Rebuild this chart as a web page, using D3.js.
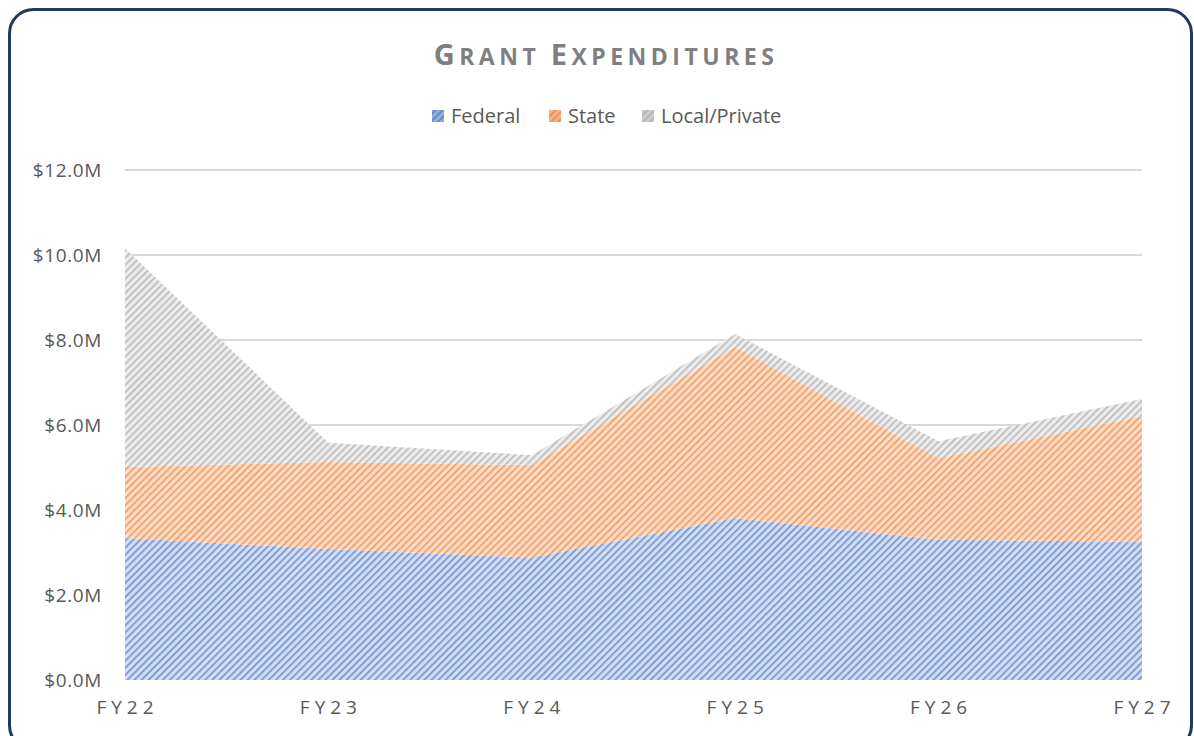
<!DOCTYPE html>
<html>
<head>
<meta charset="utf-8">
<script src="https://cdn.jsdelivr.net/npm/d3@7"></script>
<style>
  body { margin: 0; background: #fff; }
  svg { display: block; }
  text { font-family: "Open Sans", "Noto Sans", sans-serif; }
</style>
</head>
<body>
<svg id="chart" width="1194" height="736"></svg>
<script>
const categories = ["FY22", "FY23", "FY24", "FY25", "FY26", "FY27"];
const federal = [3.34, 3.08, 2.88, 3.81, 3.3, 3.25];
const state = [1.67, 2.05, 2.18, 4.03, 1.92, 2.96];
const localPrivate = [5.15, 0.45, 0.23, 0.3, 0.4, 0.4];
const seriesNames = ["Federal", "State", "Local/Private"];
const yTicks = [0, 2, 4, 6, 8, 10, 12];

const colors = ["#4472C4", "#ED7D31", "#A5A5A5"];
const bgs = ["#d3ddf2", "#fcdcc6", "#ececec"];

const svg = d3.select("#chart");
const W = 1194, H = 736;
const margin = { left: 125, right: 52, top: 170, bottom: 56 };

// border
svg.append("rect")
  .attr("x", 9.5).attr("y", 9.5)
  .attr("width", 1182).attr("height", 740)
  .attr("rx", 24).attr("ry", 24)
  .attr("fill", "#fff")
  .attr("stroke", "#1f3864").attr("stroke-width", 3);

// patterns
const defs = svg.append("defs");
const keys = ["federal", "state", "local"];
keys.forEach((k, i) => {
  const p = defs.append("pattern")
    .attr("id", "pat-" + k)
    .attr("patternUnits", "userSpaceOnUse")
    .attr("width", 5).attr("height", 5)
    .attr("patternTransform", "rotate(45)");
  p.append("rect").attr("width", 5).attr("height", 5).attr("fill", bgs[i]);
  p.append("rect").attr("x", 0).attr("y", 0).attr("width", 1.6).attr("height", 5)
    .attr("fill", colors[i]).attr("opacity", 0.7);
});

const x = d3.scalePoint().domain(categories).range([margin.left, W - margin.right]);
const y = d3.scaleLinear().domain([0, 12]).range([H - margin.bottom, margin.top]);

// gridlines
svg.append("g").selectAll("line").data(yTicks.filter(d => d > 0)).join("line")
  .attr("x1", margin.left).attr("x2", W - margin.right)
  .attr("y1", d => y(d)).attr("y2", d => y(d))
  .attr("stroke", "#d9d9d9").attr("stroke-width", 2);

// y axis labels
const yAxis = d3.axisLeft(y).tickValues(yTicks).tickFormat(d => "$" + d.toFixed(1) + "M").tickSize(0).tickPadding(23);
const gy = svg.append("g").attr("transform", `translate(${margin.left},0)`).call(yAxis);
gy.select(".domain").remove();
gy.selectAll("text").attr("fill", "#595959").style("font-size", "19px")
  .style("letter-spacing", "0.6px")
  .style("font-family", "'Open Sans', sans-serif");

// stacked areas
const table = categories.map((c, i) => ({ cat: c, federal: federal[i], state: state[i], local: localPrivate[i] }));
const stack = d3.stack().keys(keys)(table);
const area = d3.area()
  .x(d => x(d.data.cat))
  .y0(d => y(d[0]))
  .y1(d => y(d[1]));
svg.append("g").selectAll("path").data(stack).join("path")
  .attr("d", area)
  .attr("fill", d => `url(#pat-${d.key})`);

// x axis labels
const xAxis = d3.axisBottom(x).tickSize(0).tickPadding(21);
const gx = svg.append("g").attr("transform", `translate(0,${H - margin.bottom})`).call(xAxis);
gx.select(".domain").remove();
gx.selectAll("text").attr("fill", "#595959").style("font-size", "19px")
  .style("letter-spacing", "5px")
  .attr("dx", "2px")
  .style("font-family", "'Open Sans', sans-serif");

// title
const title = svg.append("text")
  .attr("x", 606).attr("y", 65)
  .attr("text-anchor", "middle")
  .attr("fill", "#7f7f7f")
  .style("font-weight", "bold")
  .style("letter-spacing", "4.5px");
title.append("tspan").style("font-size", "29px").text("G");
title.append("tspan").style("font-size", "23px").text("RANT ");
title.append("tspan").style("font-size", "29px").text(" E");
title.append("tspan").style("font-size", "23px").text("XPENDITURES");

// legend
const legendX = [432, 549, 642];
const lg = svg.append("g");
seriesNames.forEach((n, i) => {
  lg.append("rect").attr("x", legendX[i]).attr("y", 110).attr("width", 12).attr("height", 12)
    .attr("fill", `url(#pat-${keys[i]})`);
  lg.append("rect").attr("x", legendX[i]).attr("y", 110).attr("width", 12).attr("height", 12)
    .attr("fill", colors[i]).attr("opacity", 0.45);
  lg.append("text").attr("x", legendX[i] + 19).attr("y", 123)
    .attr("fill", "#595959").style("font-size", "20px").text(n);
});
</script>
</body>
</html>
